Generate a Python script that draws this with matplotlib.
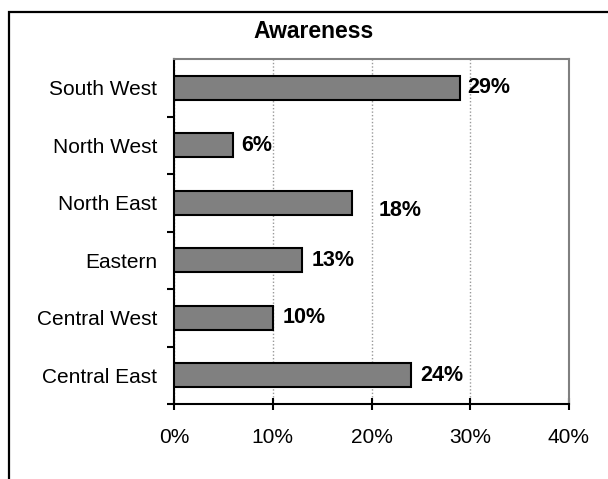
import matplotlib.pyplot as plt
from matplotlib.patches import Rectangle
from matplotlib.ticker import FuncFormatter

plt.rcParams['font.family'] = ['Liberation Sans', 'DejaVu Sans']

regions = ['Central East', 'Central West', 'Eastern', 'North East', 'North West', 'South West']
awareness = [24, 10, 13, 18, 6, 29]
# label nudges in pixels (x, y) from the end of each bar
label_offsets = [(9, 0), (10, 0), (9, 0), (27, -8), (8, 0), (7, 0)]
xticks = [0, 10, 20, 30, 40]

fig = plt.figure(figsize=(6.08, 4.79), dpi=100)
ax = fig.add_axes([174 / 608, 1 - 404 / 479, 395 / 608, 345 / 479])

# outer frame, runs off the right and bottom edges
fig.patches.append(Rectangle((9 / 608, -0.1), 1.2, 1.1 - 12 / 479, transform=fig.transFigure,
                             fill=False, edgecolor='black', linewidth=1.6, zorder=0))

pos = list(range(len(regions)))
ax.barh(pos, awareness, height=0.42, color='#808080', edgecolor='black', linewidth=1.5, zorder=3)

for p, v, (dx, dy) in zip(pos, awareness, label_offsets):
    ax.annotate(f'{v}%', xy=(v, p), xytext=(dx * 0.72, dy * 0.72), textcoords='offset points',
                ha='left', va='center', fontsize=15.5, fontweight='bold', zorder=4)

ax.set_xlim(0, 40)
ax.set_ylim(-0.5, len(regions) - 0.5)
ax.set_xticks(xticks)
ax.xaxis.set_major_formatter(FuncFormatter(lambda x, _: f'{x:.0f}%'))
ax.set_yticks([p + 0.5 for p in pos[:-1]] + [-0.5], minor=False)
ax.set_yticklabels([''] * len(pos))
ax.set_yticks(pos, minor=True)
ax.set_yticklabels(regions, minor=True)

ax.tick_params(axis='y', which='major', length=5, width=1.5, direction='out', color='black')
ax.tick_params(axis='y', which='minor', length=0, pad=12, labelsize=15)
ax.tick_params(axis='x', length=9, width=1.5, direction='inout', pad=13, labelsize=15)

ax.grid(axis='x', color='#999999', linestyle=(0, (1, 1.5)), linewidth=1, zorder=1)

for side in ['top', 'right']:
    ax.spines[side].set_color('#808080')
    ax.spines[side].set_linewidth(1.5)
for side in ['left', 'bottom']:
    ax.spines[side].set_linewidth(1.5)

fig.text(314 / 608, 1 - 32 / 479, 'Awareness', ha='center', va='center',
         fontsize=16.5, fontweight='bold')

fig.savefig('out.png', dpi=100)
